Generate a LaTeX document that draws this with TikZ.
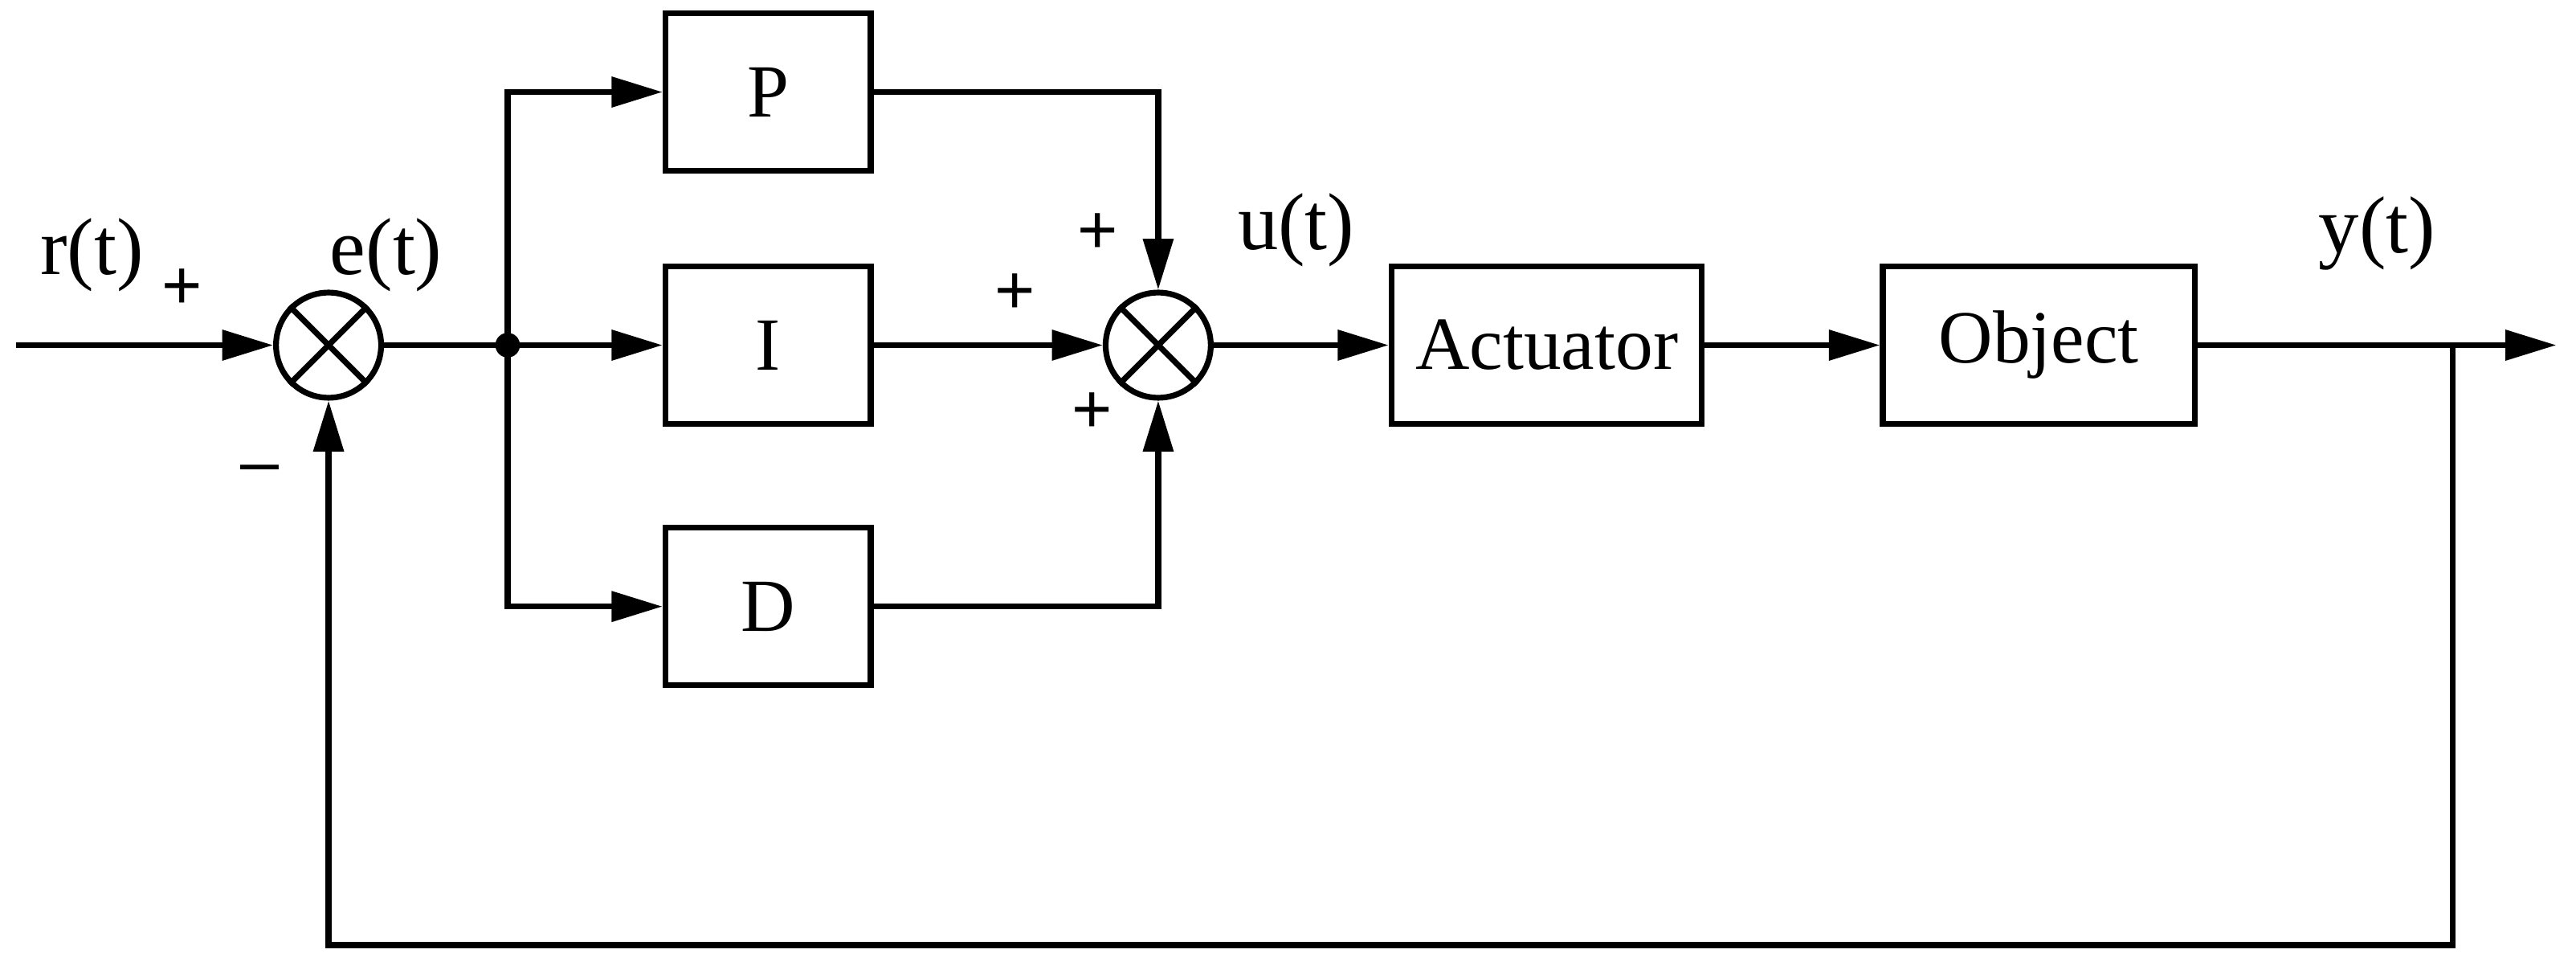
\documentclass[tikz,border=0pt]{standalone}
\usepackage{fontspec}
\setmainfont{Liberation Serif}
\newfontfamily\sgfont{Liberation Sans}
\usetikzlibrary{arrows.meta}
\begin{document}
\begin{tikzpicture}[x=0.02cm,y=-0.02cm,
  every path/.style={line width=2pt},
  blk/.style={draw,line width=2pt,minimum height=1.92cm,inner sep=0pt,font=\fontsize{26}{30}\selectfont},
  sum/.style={draw,circle,line width=2pt,minimum size=1.28cm,inner sep=0pt},
  arr/.style={-{Triangle[length=0.62cm,width=0.36cm]}},
  lbl/.style={font=\fontsize{28}{32}\selectfont},
  sg/.style={font=\sgfont\fontsize{24}{28}\selectfont}]
\useasboundingbox (0,0) rectangle (1568,590);
\node[sum] (s1) at (200,210) {};
\node[sum] (s2) at (705,210) {};
\draw (s1.north east)--(s1.south west) (s1.north west)--(s1.south east);
\draw (s2.north east)--(s2.south west) (s2.north west)--(s2.south east);
\node[blk,minimum width=2.5cm] (P) at (467.5,56) {P};
\node[blk,minimum width=2.5cm] (I) at (467.5,210) {I};
\node[blk,minimum width=2.5cm] (D) at (467.5,369) {D};
\node[blk,minimum width=3.78cm] (act) at (941.5,210) {Actuator};
\node[blk,minimum width=3.8cm] (obj) at (1241,210) {Object};
\coordinate (in) at (10,210);
\coordinate (j) at (309,210);
\coordinate (out) at (1556,210);
\coordinate (br) at (1493,210);
\coordinate (bot) at (1493,575);
\fill (j) circle (0.15cm);
\draw[arr] (in) -- (s1.west);
\draw (s1.east) -- (j);
\draw[arr] (j) -- (I.west);
\draw[arr] (j) |- (P.west);
\draw[arr] (j) |- (D.west);
\draw[arr] (P.east) -| (s2.north);
\draw[arr] (I.east) -- (s2.west);
\draw[arr] (D.east) -| (s2.south);
\draw[arr] (s2.east) -- (act.west);
\draw[arr] (act.east) -- (obj.west);
\draw[arr] (obj.east) -- (out);
\draw[arr] (br) -- (bot) -| (s1.south);
\node[lbl] (lr) at (56,155) {r(t)};
\node[lbl] (le) at (235,155) {e(t)};
\node[lbl] (lu) at (789,140) {u(t)};
\node[lbl] (ly) at (1447,142) {y(t)};
\node[sg] (p1) at (111,176) {+};
\node[sg] (m1) at (158,289) {\textendash};
\node[sg] (p2) at (668,142) {+};
\node[sg] (p3) at (618,179) {+};
\node[sg] (p4) at (665,251) {+};
\end{tikzpicture}
\end{document}
